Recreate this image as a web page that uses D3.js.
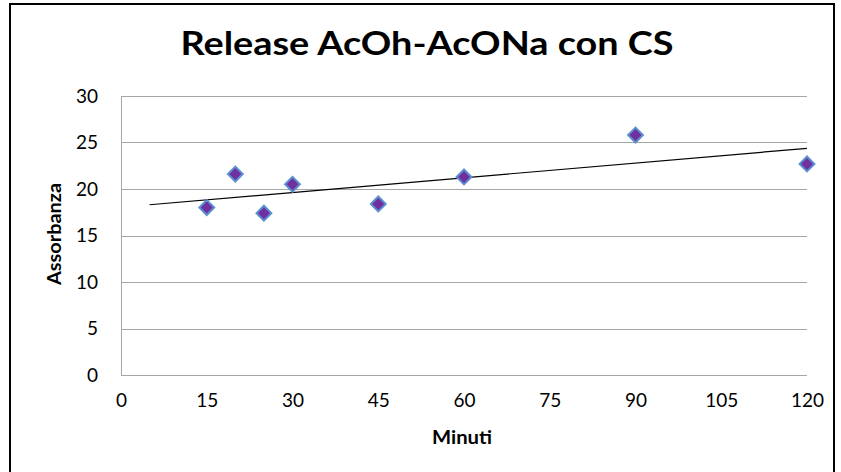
<!DOCTYPE html>
<html>
<head>
<meta charset="utf-8">
<script src="https://cdn.jsdelivr.net/npm/d3@7"></script>
<style>
  body { margin: 0; background: #fff; }
  text { font-family: Lato, "Open Sans", sans-serif; fill: #000; }
</style>
</head>
<body>
<div id="chart"></div>
<script>
// data
var minuti = [15, 20, 25, 30, 45, 60, 90, 120];
var assorbanza = [18.0, 21.6, 17.4, 20.5, 18.4, 21.3, 25.8, 22.7];
var xTicks = [0, 15, 30, 45, 60, 75, 90, 105, 120];
var yTicks = [0, 5, 10, 15, 20, 25, 30];
var trendFrom = 5; // trendline is drawn from here to the last x

var W = 841, H = 472;
var margin = { top: 96, right: 35, bottom: 97, left: 121 },
    width = 807 - margin.left,
    height = 375 - margin.top;

var svg = d3.select("#chart")
    .append("svg")
    .attr("width", W)
    .attr("height", H);

// chart frame
svg.append("rect")
    .attr("x", 10).attr("y", 4)
    .attr("width", 824).attr("height", 500)
    .attr("fill", "#fff")
    .attr("stroke", "#000")
    .attr("stroke-width", 2);

// title
svg.append("text")
    .attr("x", 427).attr("y", 55)
    .attr("text-anchor", "middle")
    .style("font-size", "32px")
    .style("font-weight", "bold")
    .attr("textLength", 493)
    .attr("lengthAdjust", "spacingAndGlyphs")
    .text("Release AcOh-AcONa con CS");

var g = svg.append("g")
    .attr("transform", "translate(" + margin.left + "," + margin.top + ")");

var x = d3.scaleLinear().domain([0, 120]).range([0, width]);
var y = d3.scaleLinear().domain([0, 30]).range([height, 0]);

// horizontal gridlines
g.append("g")
    .selectAll("line")
    .data(yTicks)
    .enter()
    .append("line")
    .attr("x1", 0).attr("x2", width)
    .attr("y1", function (d) { return Math.round(y(d)) + 0.5; })
    .attr("y2", function (d) { return Math.round(y(d)) + 0.5; })
    .attr("stroke", "#a6a6a6")
    .attr("stroke-width", 1);

// left axis line
g.append("line")
    .attr("x1", 0.5).attr("x2", 0.5)
    .attr("y1", 0).attr("y2", height)
    .attr("stroke", "#a6a6a6");

// y axis labels
var yAxis = g.append("g")
    .call(d3.axisLeft(y).tickValues(yTicks).tickSize(0).tickPadding(23));
yAxis.select(".domain").remove();
yAxis.selectAll("text")
    .style("font-family", "Lato, 'Open Sans', sans-serif")
    .style("font-size", "19px")
    .attr("fill", "#000");

// x axis labels
var xAxis = g.append("g")
    .attr("transform", "translate(0," + height + ")")
    .call(d3.axisBottom(x).tickValues(xTicks).tickSize(0).tickPadding(19));
xAxis.select(".domain").remove();
xAxis.selectAll("text")
    .style("font-family", "Lato, 'Open Sans', sans-serif")
    .style("font-size", "19px")
    .attr("fill", "#000");

// axis titles
svg.append("text")
    .attr("transform", "translate(61,234) rotate(-90)")
    .attr("text-anchor", "middle")
    .style("font-size", "19px")
    .style("font-weight", "bold")
    .attr("textLength", 102)
    .attr("lengthAdjust", "spacingAndGlyphs")
    .text("Assorbanza");

svg.append("text")
    .attr("x", 462).attr("y", 444)
    .attr("text-anchor", "middle")
    .style("font-size", "19px")
    .style("font-weight", "bold")
    .attr("textLength", 60)
    .attr("lengthAdjust", "spacingAndGlyphs")
    .text("Minuti");

// linear trendline (least squares)
var mx = d3.mean(minuti), my = d3.mean(assorbanza);
var num = d3.sum(minuti, function (d, i) { return (d - mx) * (assorbanza[i] - my); });
var den = d3.sum(minuti, function (d) { return (d - mx) * (d - mx); });
var slope = num / den, icpt = my - slope * mx;
var trendX = [trendFrom, d3.max(minuti)];

g.append("path")
    .datum(trendX)
    .attr("d", d3.line()
        .x(function (d) { return x(d); })
        .y(function (d) { return y(icpt + slope * d); }))
    .attr("stroke", "#000")
    .attr("stroke-width", 1.2)
    .attr("fill", "none");

// diamond markers
g.append("g")
    .selectAll("path")
    .data(minuti)
    .enter()
    .append("path")
    .attr("d", d3.symbol().type(d3.symbolSquare).size(110))
    .attr("transform", function (d, i) {
        return "translate(" + x(d) + "," + y(assorbanza[i]) + ") rotate(45)";
    })
    .attr("fill", "#7030a0")
    .attr("stroke", "#5b8fd0")
    .attr("stroke-width", 2);
</script>
</body>
</html>
